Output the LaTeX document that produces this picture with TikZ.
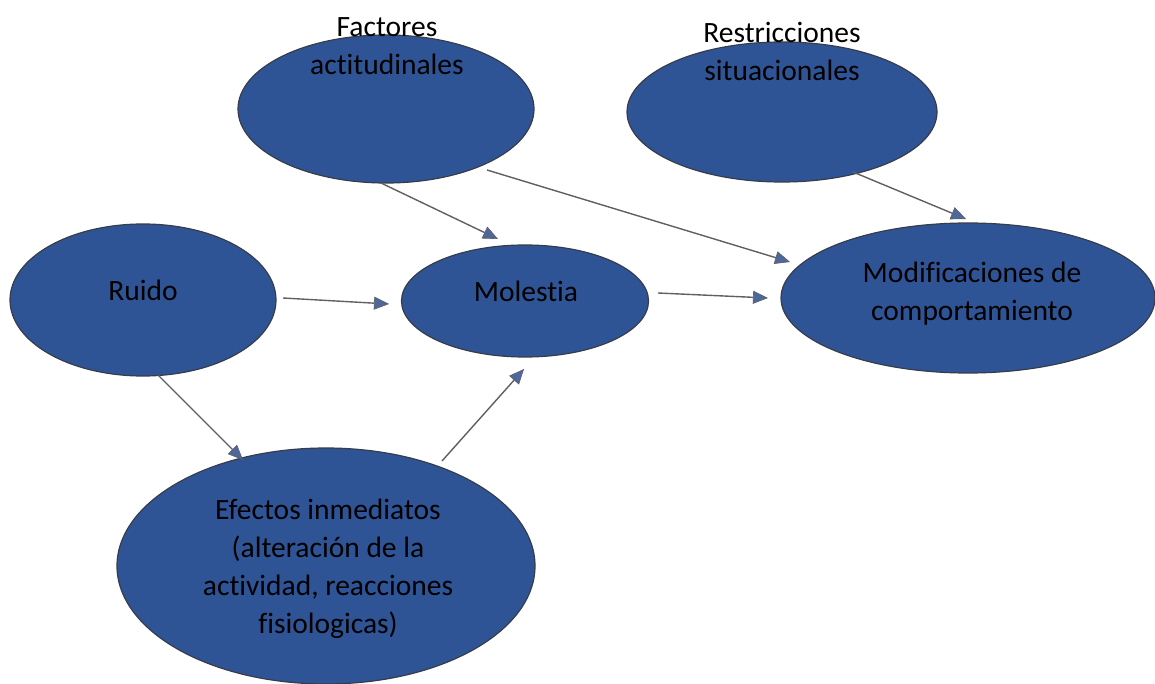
\documentclass[tikz,border=0pt]{standalone}
\usepackage{fontspec}
\setmainfont[Ligatures={NoCommon,NoContextual}]{Carlito}
\usetikzlibrary{shapes.geometric,arrows.meta}
\definecolor{ellfill}{RGB}{47,84,150}
\definecolor{ellline}{RGB}{55,60,75}
\definecolor{arrline}{RGB}{95,95,100}
\definecolor{tipfill}{RGB}{78,104,155}
\tikzset{
  ell/.style={ellipse, draw=ellline, line width=1.2pt, fill=ellfill, inner sep=0pt},
  lbl/.style={align=center, font=\fontsize{29.5}{38}\selectfont, text=black, inner sep=0pt},
  conn/.style={draw=arrline, line width=1.4pt, -{Triangle[length=15pt,width=13pt,fill=tipfill,line width=0.6pt]}}
}
\begin{document}
\begin{tikzpicture}[x=1pt,y=-1pt]
\useasboundingbox (0,0) rectangle (1155,684);
% ellipses
\node[ell, minimum width=296pt, minimum height=148pt] (fac) at (386,109) {};
\node[ell, minimum width=310pt, minimum height=140pt] (res) at (782,112) {};
\node[ell, minimum width=266pt, minimum height=152pt] (rui) at (143,300) {};
\node[ell, minimum width=247pt, minimum height=112pt] (mol) at (525,301) {};
\node[ell, minimum width=374pt, minimum height=150pt] (mod) at (968,298) {};
\node[ell, minimum width=418pt, minimum height=236pt] (efe) at (326,566) {};
% labels
\node[lbl] (facT) at (387,46) {Factores\\actitudinales};
\node[lbl] (resT) at (782,51) {Restricciones\\situacionales};
\node[lbl] (ruiT) at (143,290) {Ruido};
\node[lbl] (molT) at (526,291) {Molestia};
\node[lbl] (modT) at (972,294) {Modificaciones de\\comportamiento};
\node[lbl] (efeT) at (328,569) {Efectos inmediatos\\(alteración de la\\actividad, reacciones\\fisiologicas)};
% connector endpoints
\coordinate (fm1) at (381,183); \coordinate (fm2) at (498,239);
\coordinate (fd1) at (487,170); \coordinate (fd2) at (790,262);
\coordinate (rd1) at (853,172); \coordinate (rd2) at (966,219);
\coordinate (rm1) at (283,298); \coordinate (rm2) at (389,304);
\coordinate (md1) at (658,293); \coordinate (md2) at (768,298);
\coordinate (re1) at (158,375); \coordinate (re2) at (243,460);
\coordinate (em1) at (442,461); \coordinate (em2) at (524,369);
\draw[conn] (fm1) -- (fm2);
\draw[conn] (fd1) -- (fd2);
\draw[conn] (rd1) -- (rd2);
\draw[conn] (rm1) -- (rm2);
\draw[conn] (md1) -- (md2);
\draw[conn] (re1) -- (re2);
\draw[conn] (em1) -- (em2);
\end{tikzpicture}
\end{document}
